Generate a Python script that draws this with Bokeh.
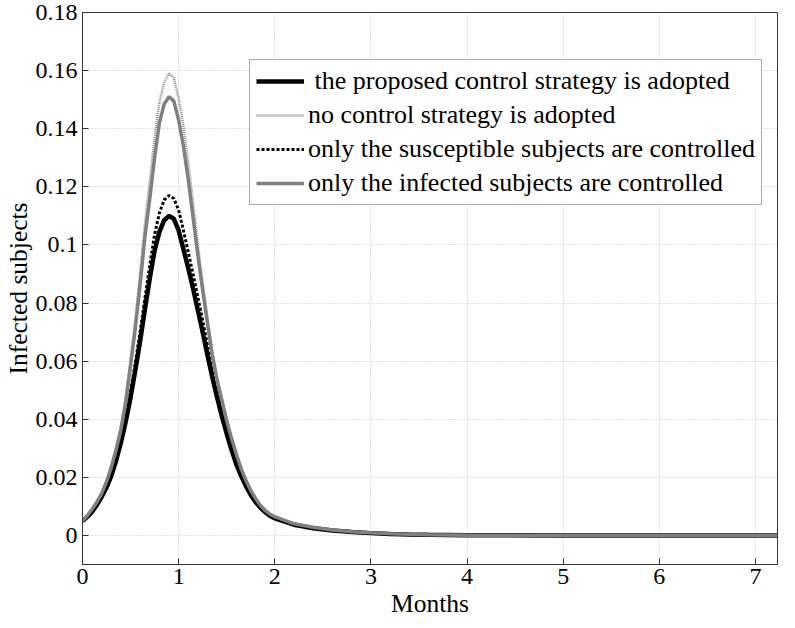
from bokeh.plotting import figure
from bokeh.models import Range1d, FixedTicker, Legend, LegendItem
from bokeh.embed import file_html
from bokeh.resources import INLINE

# ---- data ----
months = [0.00, 0.05, 0.10, 0.15, 0.20, 0.25, 0.30, 0.35, 0.40, 0.45,
          0.50, 0.55, 0.60, 0.65, 0.70, 0.75, 0.80, 0.85, 0.90, 0.95,
          1.00, 1.05, 1.10, 1.15, 1.20, 1.25, 1.30, 1.35, 1.40, 1.45,
          1.50, 1.55, 1.60, 1.65, 1.70, 1.75, 1.80, 1.85, 1.90, 1.95,
          2.00, 2.20, 2.40, 2.60, 2.80, 3.00, 3.20, 3.40, 3.60, 4.00,
          5.00, 6.00, 7.00, 7.23]

proposed = [0.0050, 0.0064, 0.0082, 0.0105, 0.0133, 0.0165, 0.0205, 0.0258, 0.0320, 0.0392,
            0.0475, 0.0570, 0.0670, 0.0780, 0.0885, 0.0980, 0.1045, 0.1085, 0.1100, 0.1090,
            0.1050, 0.0985, 0.0920, 0.0850, 0.0775, 0.0700, 0.0620, 0.0545, 0.0475, 0.0410,
            0.0350, 0.0295, 0.0245, 0.0205, 0.0170, 0.0140, 0.0115, 0.0096, 0.0080, 0.0068,
            0.0059, 0.0037, 0.0025, 0.0017, 0.0012, 0.0008, 0.0005, 0.0003, 0.0002, 0.0001,
            0.0, 0.0, 0.0, 0.0]

no_control = [0.0050, 0.0068, 0.0090, 0.0116, 0.0147, 0.0188, 0.0240, 0.0302, 0.0375, 0.0475,
              0.0605, 0.0745, 0.0905, 0.1075, 0.1220, 0.1370, 0.1490, 0.1560, 0.1590, 0.1575,
              0.1505, 0.1410, 0.1285, 0.1145, 0.1000, 0.0870, 0.0750, 0.0635, 0.0545, 0.0472,
              0.0400, 0.0338, 0.0282, 0.0232, 0.0191, 0.0156, 0.0128, 0.0105, 0.0087, 0.0074,
              0.0064, 0.0040, 0.0028, 0.0019, 0.0013, 0.0009, 0.0006, 0.0004, 0.0002, 0.0001,
              0.0, 0.0, 0.0, 0.0]

only_susceptible = [0.0050, 0.0065, 0.0084, 0.0107, 0.0136, 0.0170, 0.0212, 0.0267, 0.0332, 0.0408,
                    0.0495, 0.0595, 0.0703, 0.0818, 0.0930, 0.1035, 0.1110, 0.1155, 0.1170, 0.1160,
                    0.1120, 0.1050, 0.0975, 0.0900, 0.0820, 0.0740, 0.0655, 0.0575, 0.0500, 0.0430,
                    0.0367, 0.0308, 0.0256, 0.0213, 0.0176, 0.0145, 0.0119, 0.0099, 0.0082, 0.0070,
                    0.0060, 0.0038, 0.0026, 0.0018, 0.0012, 0.0008, 0.0005, 0.0003, 0.0002, 0.0001,
                    0.0, 0.0, 0.0, 0.0]

only_infected = [0.0050, 0.0068, 0.0090, 0.0115, 0.0145, 0.0185, 0.0235, 0.0295, 0.0365, 0.0460,
                 0.0585, 0.0715, 0.0865, 0.1030, 0.1160, 0.1300, 0.1420, 0.1485, 0.1510, 0.1495,
                 0.1430, 0.1340, 0.1225, 0.1095, 0.0965, 0.0845, 0.0730, 0.0620, 0.0535, 0.0465,
                 0.0395, 0.0335, 0.0280, 0.0230, 0.0190, 0.0155, 0.0127, 0.0104, 0.0086, 0.0073,
                 0.0065, 0.0040, 0.0028, 0.0019, 0.0013, 0.0009, 0.0006, 0.0004, 0.0002, 0.0001,
                 0.0, 0.0, 0.0, 0.0]

series_labels = [" the proposed control strategy is adopted",
                 "no control strategy is adopted",
                 "only the susceptible subjects are controlled",
                 "only the infected subjects are controlled"]

x_ticks = [0, 1, 2, 3, 4, 5, 6, 7]
y_ticks = [0, 0.02, 0.04, 0.06, 0.08, 0.1, 0.12, 0.14, 0.16, 0.18]
y_tick_labels = ["0", "0.02", "0.04", "0.06", "0.08", "0.1", "0.12", "0.14", "0.16", "0.18"]
x_title = "Months"
y_title = "Infected subjects"

FONT = "Liberation Serif"

p = figure(width=779, height=620, output_backend="svg", toolbar_location=None,
           x_range=Range1d(0, 7.23), y_range=Range1d(-0.01, 0.18),
           min_border_left=74, min_border_right=2, min_border_top=12, min_border_bottom=51)
p.background_fill_color = "white"
p.border_fill_color = "white"
p.outline_line_color = "#333333"
p.outline_line_width = 1

r1 = p.line(months, proposed, line_color="black", line_width=4.5)
r2 = p.line(months, no_control, line_color="#8c8c8c", line_width=2.5, line_dash="1 1")
r3 = p.line(months, only_susceptible, line_color="black", line_width=3, line_dash="3 2")
r4 = p.line(months, only_infected, line_color="#808080", line_width=3.5)

for ax in (p.xaxis[0], p.yaxis[0]):
    ax.major_tick_in = 6
    ax.major_tick_out = 0
    ax.minor_tick_in = 0
    ax.minor_tick_out = 0
    ax.axis_line_color = "#333333"
    ax.major_tick_line_color = "#333333"
    ax.major_label_text_font = FONT
    ax.major_label_text_font_size = "24px"
    ax.major_label_text_color = "black"
    ax.axis_label_text_font = FONT
    ax.axis_label_text_font_size = "25.5px"
    ax.axis_label_text_font_style = "normal"
    ax.axis_label_text_color = "black"

p.xaxis[0].ticker = FixedTicker(ticks=x_ticks)
p.yaxis[0].ticker = FixedTicker(ticks=y_ticks)
p.yaxis[0].major_label_overrides = {t: l for t, l in zip(y_ticks, y_tick_labels)}
p.xaxis[0].axis_label = x_title
p.yaxis[0].axis_label = y_title
p.xaxis[0].major_label_standoff = 4
p.xaxis[0].axis_label_standoff = 2
p.yaxis[0].major_label_standoff = 5
p.yaxis[0].axis_label_standoff = 0

p.xgrid.ticker = FixedTicker(ticks=x_ticks)
p.ygrid.ticker = FixedTicker(ticks=y_ticks)
for g in (p.xgrid[0], p.ygrid[0]):
    g.grid_line_color = "#c4c4c4"
    g.grid_line_dash = "1 2"
    g.grid_line_width = 1

legend = Legend(items=[LegendItem(label=series_labels[0], renderers=[r1]),
                       LegendItem(label=series_labels[1], renderers=[r2]),
                       LegendItem(label=series_labels[2], renderers=[r3]),
                       LegendItem(label=series_labels[3], renderers=[r4])],
                location=(167, 359))
legend.label_text_font = FONT
legend.label_text_font_size = "26px"
legend.label_text_color = "black"
legend.glyph_width = 48
legend.glyph_height = 30
legend.label_height = 30
legend.label_standoff = 4
legend.spacing = 4
legend.padding = 6
legend.margin = 0
legend.border_line_color = "#555555"
legend.border_line_width = 1
legend.background_fill_color = "white"
legend.background_fill_alpha = 1.0
p.add_layout(legend, "center")

open("out.html", "w").write(file_html(p, INLINE))
